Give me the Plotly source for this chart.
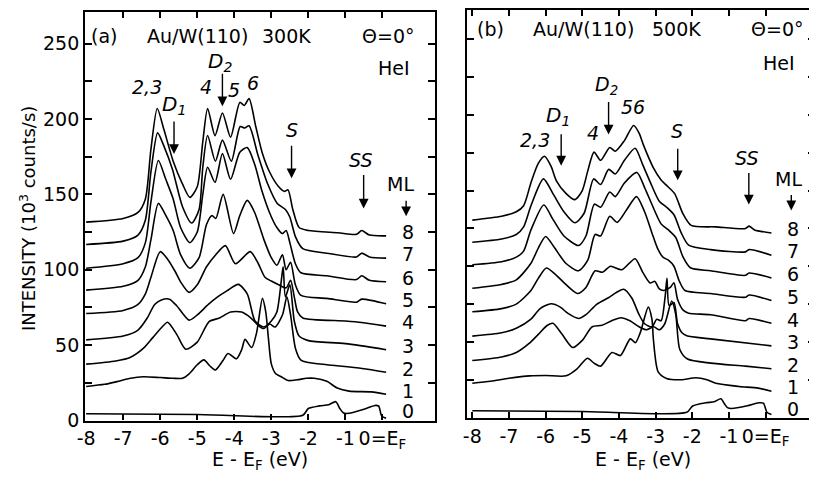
import plotly.graph_objects as go

# page body has an 8 px margin, so the figure is drawn 8 px in from the window corner
OFF = 8
W, H = 817 - OFF, 486 - OFF

# ---------------- panel (a) 300K : energies (eV) and intensities (10^3 counts/s)
a8_E = [-8, -7, -6.6, -6.4, -6.25, -6.08, -5.9, -5.65, -5.4, -5.2, -5.0, -4.85, -4.72, -4.52, -4.32, -4.1, -3.85, -3.73, -3.6, -3.42, -3.25, -3.05, -2.8, -2.65, -2.55, -2.42, -2.25, -2.0, -1.2, -0.7, -0.56, -0.35, 0.1]
a8_I = [131.6, 134, 138, 147, 180, 207, 193, 172, 157, 148, 155, 185, 207, 189, 204, 188, 211, 209, 213.5, 195, 178, 165, 155, 152, 153, 140, 128, 126, 124.5, 123.5, 126, 123, 122.5]
a7_E = [-8, -7, -6.6, -6.4, -6.25, -6.07, -5.9, -5.67, -5.4, -5.15, -4.95, -4.85, -4.72, -4.51, -4.32, -4.08, -3.84, -3.72, -3.6, -3.36, -3.1, -2.84, -2.62, -2.5, -2.35, -2.15, -1.5, -0.7, -0.56, -0.35, 0.1]
a7_I = [116.8, 119, 123, 133, 165, 190.8, 182, 166.7, 142, 131, 140, 168, 189, 172, 186, 172, 195, 194, 195.5, 176, 157, 144, 140, 135, 122, 114, 111, 108.5, 111, 108.5, 107.7]
a6_E = [-8, -7, -6.6, -6.4, -6.25, -6.05, -5.85, -5.65, -5.45, -5.2, -5.0, -4.85, -4.72, -4.52, -4.32, -4.1, -3.85, -3.65, -3.45, -3.25, -3.05, -2.85, -2.7, -2.6, -2.5, -2.35, -2.2, -1.5, -0.7, -0.56, -0.35, 0.1]
a6_I = [101, 104, 108, 118, 145, 172.5, 160, 147, 128, 118, 125, 150, 168, 158, 177, 160, 178, 181, 170, 152, 138, 128, 124, 126, 118, 104, 98, 96, 93.5, 96, 93, 92]
a5_E = [-8, -7, -6.6, -6.4, -6.25, -6.05, -5.85, -5.65, -5.45, -5.2, -4.95, -4.75, -4.6, -4.5, -4.3, -4.02, -3.85, -3.65, -3.45, -3.2, -3.0, -2.85, -2.7, -2.6, -2.48, -2.35, -2.2, -1.5, -0.7, -0.56, 0.1]
a5_I = [86.5, 89, 93, 102, 120, 144, 136, 126, 110, 101, 108, 130, 136, 134, 150, 124, 136, 146, 138, 120, 108, 103, 110, 100, 105, 90, 83, 81, 78.5, 80.5, 77.4]
a4_E = [-8, -7, -6.6, -6.4, -6.25, -6.0, -5.8, -5.6, -5.45, -5.22, -5.0, -4.75, -4.5, -4.24, -3.97, -3.57, -3.35, -3.17, -3.0, -2.8, -2.6, -2.48, -2.38, -2.29, -2.15, -1.0, -0.56, 0.1]
a4_I = [71, 73, 77, 84, 95, 112, 107, 99, 92, 85, 90, 102, 110, 116, 104, 112, 104, 95, 92.5, 90, 88, 93, 82, 72, 68, 66, 65, 62.6]
a3_E = [-8, -7, -6.6, -6.35, -6.15, -5.97, -5.75, -5.55, -5.22, -5.0, -4.7, -4.45, -4.2, -3.89, -3.65, -3.44, -3.2, -3.0, -2.85, -2.72, -2.68, -2.62, -2.5, -2.38, -2.25, -2.0, -1.0, 0.1]
a3_I = [53.5, 56, 60, 68, 77, 80, 80.5, 76, 66.6, 70, 77, 82, 86, 90.3, 84, 66, 62, 66, 72, 95, 102, 82, 90, 66, 56, 53, 51, 47]
a2_E = [-8, -7.2, -6.8, -6.45, -6.2, -5.95, -5.8, -5.55, -5.31, -5.0, -4.68, -4.4, -4.1, -3.8, -3.55, -3.35, -3.2, -3.04, -2.9, -2.7, -2.58, -2.48, -2.35, -2.2, -2.0, -1.5, -0.55, 0.1]
a2_I = [37.4, 39.5, 42, 48, 55, 62, 65.2, 57, 47.3, 52, 65.6, 68, 72, 72, 68, 63, 61, 64, 62, 70, 82, 70, 48, 40, 38.5, 37, 34.5, 32]
a1_E = [-8, -7.5, -7.17, -6.8, -6.46, -6.0, -5.66, -5.4, -5.22, -5.0, -4.82, -4.65, -4.51, -4.3, -4.17, -3.94, -3.8, -3.71, -3.53, -3.4, -3.24, -3.15, -3.08, -3.0, -2.88, -2.73, -2.55, -2.3, -2.05, -1.84, -1.5, -1.22, -0.9, -0.3, 0.1]
a1_I = [22.6, 24, 25.8, 28, 29, 28.5, 28, 28, 31, 37, 40.2, 36, 33.5, 40, 44.5, 41, 47, 53.8, 48.4, 58, 81, 72, 55, 37.6, 31, 29, 26.5, 27, 28, 28, 26, 21.5, 19.5, 19, 17.4]
a0_E = [-8, -5, -2.15, -2.0, -1.7, -1.45, -1.26, -1.15, -1.05, -0.9, -0.5, -0.2, -0.1, -0.02, 0.1]
a0_I = [4.5, 4, 3.5, 8, 9.7, 10.5, 12.5, 8, 5, 4.8, 7.5, 10, 9.5, 3, 1.5]

# ---------------- panel (b) 500K
b8_E = [-8, -7.2, -6.8, -6.6, -6.39, -6.2, -6.03, -5.85, -5.71, -5.44, -5.2, -5.0, -4.85, -4.68, -4.5, -4.25, -4.1, -3.85, -3.6, -3.45, -3.33, -3.06, -2.85, -2.7, -2.48, -2.26, -2.03, -1.36, -0.55, -0.45, -0.3, 0.16]
b8_I = [130.5, 133, 136, 140, 156, 168, 172.7, 166, 156.6, 148, 144, 150, 163, 175.4, 170, 178.5, 176, 183, 193, 188, 180, 165, 157, 153.4, 148, 135, 127, 126, 124.9, 126.5, 124, 122]
b7_E = [-8, -7.2, -6.8, -6.6, -6.4, -6.06, -5.8, -5.5, -5.2, -4.95, -4.69, -4.5, -4.28, -4.1, -3.85, -3.56, -3.35, -3.1, -2.9, -2.7, -2.5, -2.3, -2.1, -1.5, -0.55, -0.45, 0.16]
b7_I = [115.9, 118, 121, 126, 140, 157.7, 148, 136, 128.7, 135, 157.7, 154, 164, 161, 170, 178, 167, 153, 143, 139, 134, 122, 114, 111, 109.5, 111, 107.3]
b6_E = [-8, -7.2, -6.8, -6.6, -6.4, -6.05, -5.8, -5.5, -5.1, -4.9, -4.67, -4.5, -4.25, -4.1, -3.85, -3.51, -3.3, -3.05, -2.85, -2.65, -2.45, -2.25, -2.05, -1.5, -0.55, -0.45, 0.16]
b6_I = [101, 103, 106, 110, 124, 140.5, 131, 120, 113.7, 120, 141, 139, 149, 146, 155, 162, 152, 138, 128, 124, 119, 106, 99, 97, 94, 95.5, 92.3]
b5_E = [-8, -7.2, -6.8, -6.4, -6.2, -6.0, -5.75, -5.45, -5.1, -4.85, -4.65, -4.5, -4.25, -4.05, -3.8, -3.52, -3.3, -3.1, -2.95, -2.8, -2.65, -2.5, -2.35, -2.2, -1.5, -0.55, -0.45, 0.16]
b5_I = [85.5, 88, 91, 102, 112, 119.7, 112, 102, 97, 104, 121, 120, 133, 129, 137, 146, 136, 122, 112, 106, 104, 100, 90, 84, 82, 79.5, 81, 77.3]
b4_E = [-8, -7.2, -6.8, -6.4, -6.2, -5.98, -5.75, -5.45, -5.13, -4.9, -4.65, -4.45, -4.23, -3.92, -3.56, -3.35, -3.15, -3.02, -2.9, -2.78, -2.6, -2.5, -2.4, -2.25, -2.1, -1.5, -0.55, -0.45, 0.16]
b4_I = [69.9, 72, 75, 84, 92, 98.8, 95, 88, 82, 86, 97, 96, 100, 97.7, 105, 96, 89, 90, 85, 84, 86, 89, 78, 71, 69, 68, 64, 65.5, 62.3]
b3_E = [-8, -7.2, -6.8, -6.4, -6.15, -5.85, -5.6, -5.4, -5.1, -4.9, -4.6, -4.3, -4.05, -3.87, -3.65, -3.45, -3.3, -3.1, -2.97, -2.85, -2.74, -2.69, -2.63, -2.5, -2.4, -2.28, -2.15, -1.5, 0.16]
b3_I = [53.8, 56, 59, 65, 72, 75.2, 73, 69, 65.5, 68, 75, 79, 83, 84.8, 79, 68, 62, 60, 65, 64, 80, 92, 74, 76, 62, 56, 54, 52, 47.4]
b2_E = [-8, -7.2, -6.8, -6.45, -6.2, -5.95, -5.8, -5.55, -5.26, -5.0, -4.73, -4.46, -4.2, -3.95, -3.7, -3.45, -3.25, -3.05, -2.9, -2.75, -2.56, -2.45, -2.34, -2.13, -1.5, -0.55, 0.16]
b2_I = [37.7, 40, 43, 49, 55, 61, 62.3, 55, 46.3, 51, 60, 61, 64, 66, 64, 60, 58, 60, 58, 62, 77, 68, 45, 38.7, 36, 34, 32.3]
b1_E = [-8, -7.5, -7.0, -6.43, -6.0, -5.44, -5.15, -4.86, -4.68, -4.5, -4.19, -3.96, -3.69, -3.55, -3.42, -3.2, -3.1, -3.06, -2.93, -2.7, -2.3, -1.9, -1.6, -1.36, -0.73, -0.2, 0.16]
b1_I = [22.7, 24, 26, 27.6, 27.8, 27.6, 32, 39.2, 36, 34, 43, 41, 52, 49.5, 56, 73, 65, 51.6, 30.2, 25.9, 25, 26.3, 25, 22.7, 20.6, 19.5, 17.4]
b0_E = [-8, -5, -2.15, -1.99, -1.63, -1.4, -1.22, -1.12, -1.04, -0.93, -0.5, -0.19, -0.06, 0.04, 0.16]
b0_I = [4.5, 4, 3.5, 7.7, 9.8, 10.5, 12.4, 9, 6.6, 6, 7.8, 9.8, 9.5, 3.4, 2]

ml_labels = ["8", "7", "6", "5", "4", "3", "2", "1", "0"]
x_ticks = [-8, -7, -6, -5, -4, -3, -2, -1, 0]
x_ticktext = ["-8", "-7", "-6", "-5", "-4", "-3", "-2", "-1", "0=E<sub>F</sub>"]
y_ticks = [0, 25, 50, 75, 100, 125, 150, 175, 200, 225, 250]
y_ticktext = ["0", "", "50", "", "100", "", "150", "", "200", "", "250"]

panel_a = [(a8_E, a8_I), (a7_E, a7_I), (a6_E, a6_I), (a5_E, a5_I), (a4_E, a4_I),
           (a3_E, a3_I), (a2_E, a2_I), (a1_E, a1_I), (a0_E, a0_I)]
panel_b = [(b8_E, b8_I), (b7_E, b7_I), (b6_E, b6_I), (b5_E, b5_I), (b4_E, b4_I),
           (b3_E, b3_I), (b2_E, b2_I), (b1_E, b1_I), (b0_E, b0_I)]

LINE = dict(color="black", width=1.6, shape="spline", smoothing=0.7)
fig = go.Figure()
for E, I in panel_a:
    fig.add_trace(go.Scatter(x=E, y=I, mode="lines", xaxis="x", yaxis="y", line=LINE,
                             showlegend=False, hoverinfo="skip"))
for E, I in panel_b:
    fig.add_trace(go.Scatter(x=E, y=I, mode="lines", xaxis="x2", yaxis="y2", line=LINE,
                             showlegend=False, hoverinfo="skip"))

FONT = "DejaVu Sans"


def px(x):
    return min(max((x - OFF) / W, 0.0), 1.0)


def py(y):
    return min(max(1 - (y - OFF) / H, 0.0), 1.0)


axis_common = dict(showline=True, linewidth=2.2, linecolor="black", mirror="ticks",
                   ticks="inside", tickcolor="black", tickwidth=1.6, showgrid=False,
                   zeroline=False, tickfont=dict(family=FONT, size=19, color="black"))

fig.update_layout(
    width=W, height=H, margin=dict(l=0, r=0, t=0, b=0),
    paper_bgcolor="white", plot_bgcolor="white",
    xaxis=dict(domain=[px(78), px(432)], range=[-8.027, 1.413], anchor="y",
               tickvals=x_ticks, ticktext=x_ticktext, ticklen=6, **axis_common),
    yaxis=dict(domain=[py(430), py(10)], range=[0, 271], anchor="x",
               tickvals=y_ticks, ticktext=y_ticktext, ticklen=7, **axis_common),
    xaxis2=dict(domain=[px(465), 1.0], range=[-8.135, 1.348], anchor="y2",
                tickvals=x_ticks, ticktext=x_ticktext, ticklen=6, **axis_common),
    yaxis2=dict(domain=[py(427), 1.0], range=[0, 269.3], anchor="x2",
                tickvals=y_ticks, showticklabels=False, ticklen=7, **axis_common),
)

ann = []


def text(x, y, s, size=19, italic=False):
    if italic:
        s = "<i>" + s + "</i>"
    ann.append(dict(x=px(x), y=py(y), xref="paper", yref="paper", text=s, showarrow=False,
                    font=dict(family=FONT, size=size, color="black"),
                    xanchor="center", yanchor="middle"))


def arrow(x, y0, y1):
    ann.append(dict(x=px(x), y=py(y1), xref="paper", yref="paper", text="", showarrow=True,
                    ax=0, ay=-(y1 - y0), arrowhead=2, arrowsize=1.4, arrowwidth=1.4,
                    arrowcolor="black"))


# panel a texts
text(97, 35, "(a)")
text(192, 35, "Au/W(110)")
text(282, 35, "300K")
text(385, 35, "Θ=0°")
text(391, 68, "HeI")
text(141, 87, "2,3", italic=True)
text(168, 106, "D<sub>1</sub>", italic=True, size=20)
arrow(168, 122, 156)
text(200, 87, "4", italic=True)
text(215, 61, "D<sub>2</sub>", italic=True, size=20)
arrow(217, 73, 107)
text(229, 90, "5", italic=True)
text(248, 83, "6", italic=True)
text(287, 131, "S", italic=True)
arrow(287, 147, 181)
text(357, 162, "SS", italic=True)
arrow(360, 177, 212)
text(397, 187, "ML")
arrow(403, 203, 220)
text(255, 471, "E - E<sub>F</sub> (eV)")
ann.append(dict(x=px(20), y=py(222), xref="paper", yref="paper", showarrow=False,
                xanchor="center", yanchor="middle",
                text="INTENSITY (10<sup>3</sup> counts/s)", textangle=-90,
                font=dict(family=FONT, size=18, color="black")))

# panel b texts
text(488, 28, "(b)")
text(583, 28, "Au/W(110)")
text(677, 28, "500K")
text(779, 28, "Θ=0°")
text(781, 62, "HeI")
text(534, 142, "2,3", italic=True)
text(557, 117, "D<sub>1</sub>", italic=True, size=20)
arrow(560, 135, 168)
text(592, 134, "4", italic=True)
text(606, 86, "D<sub>2</sub>", italic=True, size=19)
arrow(608, 102, 136)
text(633, 108, "56", italic=True)
text(677, 132, "S", italic=True)
arrow(678, 150, 183)
text(748, 160, "SS", italic=True)
arrow(750, 175, 208)
text(790, 182, "ML")
arrow(793, 197, 214)
text(643, 471, "E - E<sub>F</sub> (eV)")

# ML coverage labels next to each spectrum
for lab, (E, I) in zip(ml_labels, panel_a):
    ann.append(dict(x=0.7, y=(I[-1] + 2.5) if lab != "0" else 6, xref="x", yref="y", text=lab,
                    showarrow=False, font=dict(family=FONT, size=19, color="black")))
for lab, (E, I) in zip(ml_labels, panel_b):
    ann.append(dict(x=0.75, y=(I[-1] + 2.5) if lab != "0" else 6, xref="x2", yref="y2", text=lab,
                    showarrow=False, font=dict(family=FONT, size=19, color="black")))

fig.update_layout(annotations=ann)
fig.write_html("out.html")
